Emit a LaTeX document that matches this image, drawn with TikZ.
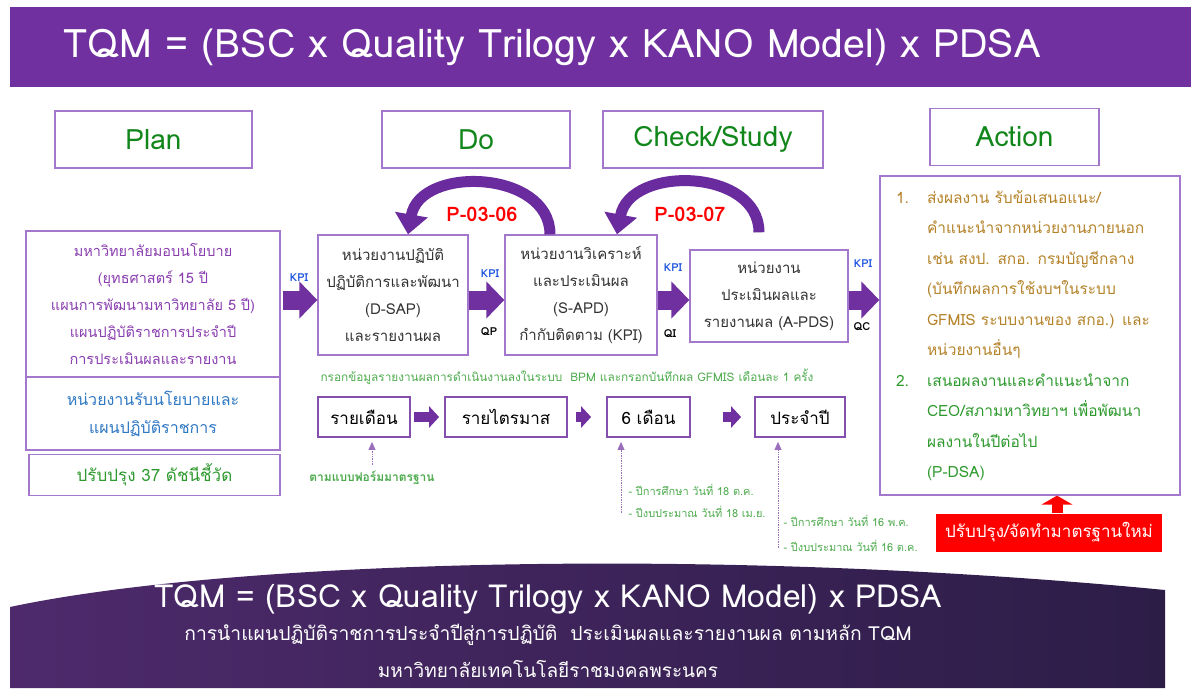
\documentclass[tikz,border=0pt]{standalone}
\usepackage{fontspec}
\setmainfont[Script=Thai]{Loma}
\usetikzlibrary{positioning,arrows.meta}

\definecolor{tqmpurple}{HTML}{7030A0}
\definecolor{boxline}{HTML}{A378CC}
\definecolor{headgreen}{HTML}{11861A}
\definecolor{plantext}{HTML}{8A3FB0}
\definecolor{unitblue}{HTML}{2F78C4}
\definecolor{darktext}{HTML}{333333}
\definecolor{kpiblue}{HTML}{1F55E0}
\definecolor{actbrown}{HTML}{B5832A}
\definecolor{actgreen}{HTML}{2E9A2E}
\definecolor{notegreen}{HTML}{4DAA4D}
\definecolor{arccol}{HTML}{6A2B9E}
\definecolor{bannerleft}{HTML}{4E2A6C}
\definecolor{bannermid}{HTML}{6E2D66}
\definecolor{bannerright}{HTML}{2C1D47}

\begin{document}
\begin{tikzpicture}[x=1pt,y=1pt,on grid,
  box/.style={draw=boxline,line width=1.3pt,fill=white,inner sep=0pt,align=center},
  phase/.style={box,minimum height=57pt,text=headgreen,font=\fontsize{28}{30}\selectfont},
  unit/.style={box,text=darktext,font=\fontsize{15}{27}\selectfont},
  period/.style={box,draw=tqmpurple!85,line width=1.8pt,minimum height=40pt,font=\fontsize{17}{20}\selectfont},
  fat/.style={draw=tqmpurple,line width=19pt,-{Triangle[length=18pt,width=36pt]}},
  small/.style={draw=tqmpurple,line width=10pt,-{Triangle[length=10pt,width=21pt]}},
  backarc/.style={draw=arccol,line width=11pt,-{Triangle[length=20pt,width=32pt]}},
  dotup/.style={draw=tqmpurple!70,densely dotted,line width=0.7pt,-{Triangle[length=8pt,width=7pt]}},
  redup/.style={draw=red,line width=11pt,-{Triangle[length=9pt,width=31pt]}},
  kpi/.style={text=kpiblue,font=\bfseries\fontsize{11}{12}\selectfont},
  qlabel/.style={font=\bfseries\fontsize{11}{12}\selectfont},
  pcode/.style={text=red,font=\bfseries\fontsize{20}{22}\selectfont},
  datenote/.style={anchor=west,text=notegreen,font=\fontsize{11}{12}\selectfont}
]
\useasboundingbox (0,0) rectangle (1191,-688);

% title bar
\fill[tqmpurple] (10,-7) rectangle (1191,-87);
\node[anchor=west,text=white,font=\fontsize{39.3}{41}\selectfont] (title) at (60,-47)
  {TQM = (BSC x Quality Trilogy x KANO Model) x PDSA};

% PDSA headings
\node[phase,minimum width=197pt] (plan) at (153.5,-139.5) {Plan};
\node[phase,minimum width=188pt] (do) at (476,-139.5) {Do};
\node[phase,minimum width=220pt] (check) at (713,-139.5) {Check/Study};
\node[phase,minimum width=169pt] (action) at (1014.5,-137) {Action};

% plan column
\node[box,minimum width=254pt,minimum height=146pt,text=plantext,font=\fontsize{14.5}{27}\selectfont] (policy) at (153,-304)
  {มหาวิทยาลัยมอบนโยบาย\\(ยุทธศาสตร์ 15 ปี\\แผนการพัฒนามหาวิทยาลัย 5 ปี)\\แผนปฏิบัติราชการประจำปี\\การประเมินผลและรายงาน};
\node[box,minimum width=254pt,minimum height=73pt,text=unitblue,font=\fontsize{16}{28}\selectfont] (receive) at (153,-413.5)
  {หน่วยงานรับนโยบายและ\\แผนปฏิบัติราชการ};
\node[box,minimum width=251pt,minimum height=41pt,text=actgreen,font=\fontsize{17}{20}\selectfont] (kpi37) at (154.5,-475)
  {ปรับปรุง 37 ดัชนีชี้วัด};

% do / check units
\node[unit,minimum width=150pt,minimum height=120pt] (dsap) at (393,-295)
  {หน่วยงานปฏิบัติ\\ปฏิบัติการและพัฒนา\\(D-SAP)\\และรายงานผล};
\node[unit,minimum width=152pt,minimum height=120pt] (sapd) at (581,-295)
  {หน่วยงานวิเคราะห์\\และประเมินผล\\(S-APD)\\กำกับติดตาม (KPI)};
\node[unit,minimum width=158pt,minimum height=92pt] (apds) at (769,-296)
  {หน่วยงาน\\ประเมินผลและ\\รายงานผล (A-PDS)};

% action
\node[box,minimum width=300pt,minimum height=319pt,text width=268pt,align=left,font=\fontsize{15.5}{30.5}\selectfont] (act) at (1030,-335.5)
  {\color{actbrown}\makebox[31pt][l]{1.}ส่งผลงาน รับข้อเสนอแนะ/\\
   \hspace*{31pt}คำแนะนำจากหน่วยงานภายนอก\\
   \hspace*{31pt}เช่น สงป. สกอ. กรมบัญชีกลาง\\
   \hspace*{31pt}(บันทึกผลการใช้งบฯในระบบ\\
   \hspace*{31pt}GFMIS ระบบงานของ สกอ.) และ\\
   \hspace*{31pt}หน่วยงานอื่นๆ\\
   \color{actgreen}\makebox[31pt][l]{2.}เสนอผลงานและคำแนะนำจาก\\
   \hspace*{31pt}CEO/สภามหาวิทยาฯ เพื่อพัฒนา\\
   \hspace*{31pt}ผลงานในปีต่อไป\\
   \hspace*{31pt}(P-DSA)};

% main flow
\draw[fat] ([xshift=2pt,yshift=4pt]policy.east) -- ([yshift=4pt]policy.east -| dsap.west);
\draw[fat] ([yshift=-5pt]dsap.east) -- ([yshift=-5pt]sapd.west);
\draw[fat] ([yshift=-5pt]sapd.east) -- ([yshift=-5pt]sapd.east -| apds.west);
\draw[fat] ([yshift=-4pt]apds.east) -- ([yshift=-4pt]apds.east -| act.west);
\node[kpi] (k1) at (299,-278) {KPI};
\node[kpi] (k2) at (490,-274) {KPI};
\node[qlabel] (qp) at (489,-332) {QP};
\node[kpi] (k3) at (673,-268) {KPI};
\node[qlabel] (qi) at (670,-334) {QI};
\node[kpi] (k4) at (863,-264) {KPI};
\node[qlabel] (qc) at (862,-327) {QC};

% feedback loops
\draw[backarc] ([xshift=-31pt]sapd.north) .. controls (550,-170) and (420,-165) .. ([xshift=15pt]dsap.north);
\draw[backarc] ([xshift=-10pt,yshift=17pt]apds.north) .. controls (759,-168) and (630,-165) .. ([xshift=36pt]sapd.north);
\node[pcode] (p06) at (482,-214) {P-03-06};
\node[pcode] (p07) at (690,-214) {P-03-07};

% reporting periods
\node[text=notegreen,font=\fontsize{11.8}{14}\selectfont] (bpm) at (567,-377)
  {กรอกข้อมูลรายงานผลการดำเนินงานลงในระบบ~~BPM และกรอกบันทึกผล GFMIS เดือนละ 1 ครั้ง};
\node[period,minimum width=92pt] (monthly) at (364,-417) {รายเดือน};
\node[period,minimum width=122pt,right=142pt of monthly] (quarter) {รายไตรมาส};
\node[period,minimum width=83pt,right=142.5pt of quarter] (half) {6 เดือน};
\node[period,minimum width=90pt,right=151.5pt of half] (yearly) {ประจำปี};
\draw[small,shorten <=3pt,shorten >=5pt] (monthly) -- (quarter);
\draw[small,shorten <=8pt,shorten >=15pt] (quarter) -- (half);
\draw[small,shorten <=32pt,shorten >=13pt] (half) -- (yearly);

% notes under periods
\coordinate (n1) at (372,-465);
\coordinate (n2) at (621,-513);
\coordinate (n3) at (778,-548);
\draw[dotup] (n1) -- ([yshift=-4pt]n1 |- monthly.south);
\draw[dotup] (n2) -- ([yshift=-4pt]n2 |- half.south);
\draw[dotup] (n3) -- ([yshift=-4pt]n3 |- yearly.south);
\node[text=notegreen,font=\bfseries\fontsize{12}{14}\selectfont] (form) at (372,-478) {ตามแบบฟอร์มมาตรฐาน};
\node[datenote] (d1) at (625,-490) {- ปีการศึกษา วันที่ 18 ต.ค.};
\node[datenote] (d2) at (625,-512) {- ปีงบประมาณ วันที่ 18 เม.ย.};
\node[datenote] (d3) at (780,-521) {- ปีการศึกษา วันที่ 16 พ.ค.};
\node[datenote] (d4) at (780,-546) {- ปีงบประมาณ วันที่ 16 ต.ค.};

% new standard callout
\node[fill=red,text=white,minimum width=226pt,minimum height=38pt,inner sep=0pt,font=\fontsize{17}{20}\selectfont] (renew) at (1049,-532.5)
  {ปรับปรุง/จัดทำมาตรฐานใหม่};
\draw[redup] ([xshift=8pt]renew.north) -- ([xshift=8pt]renew.north |- act.south);

% bottom banner
\shade[left color=bannerleft,middle color=bannermid,right color=bannerright]
  (10,-607) .. controls (220,-562) and (700,-545) .. (1165,-590) -- (1165,-688) -- (10,-688) -- cycle;
\node[text=white,font=\fontsize{31.7}{33}\selectfont] (subtitle) at (548,-599)
  {TQM = (BSC x Quality Trilogy x KANO Model) x PDSA};
\node[text=white,font=\fontsize{19.3}{21}\selectfont] (aim) at (548,-635)
  {การนำแผนปฏิบัติราชการประจำปีสู่การปฏิบัติ~~ประเมินผลและรายงานผล ตามหลัก TQM};
\node[text=white,font=\fontsize{19}{21}\selectfont] (univ) at (548,-669)
  {มหาวิทยาลัยเทคโนโลยีราชมงคลพระนคร};
\end{tikzpicture}
\end{document}
